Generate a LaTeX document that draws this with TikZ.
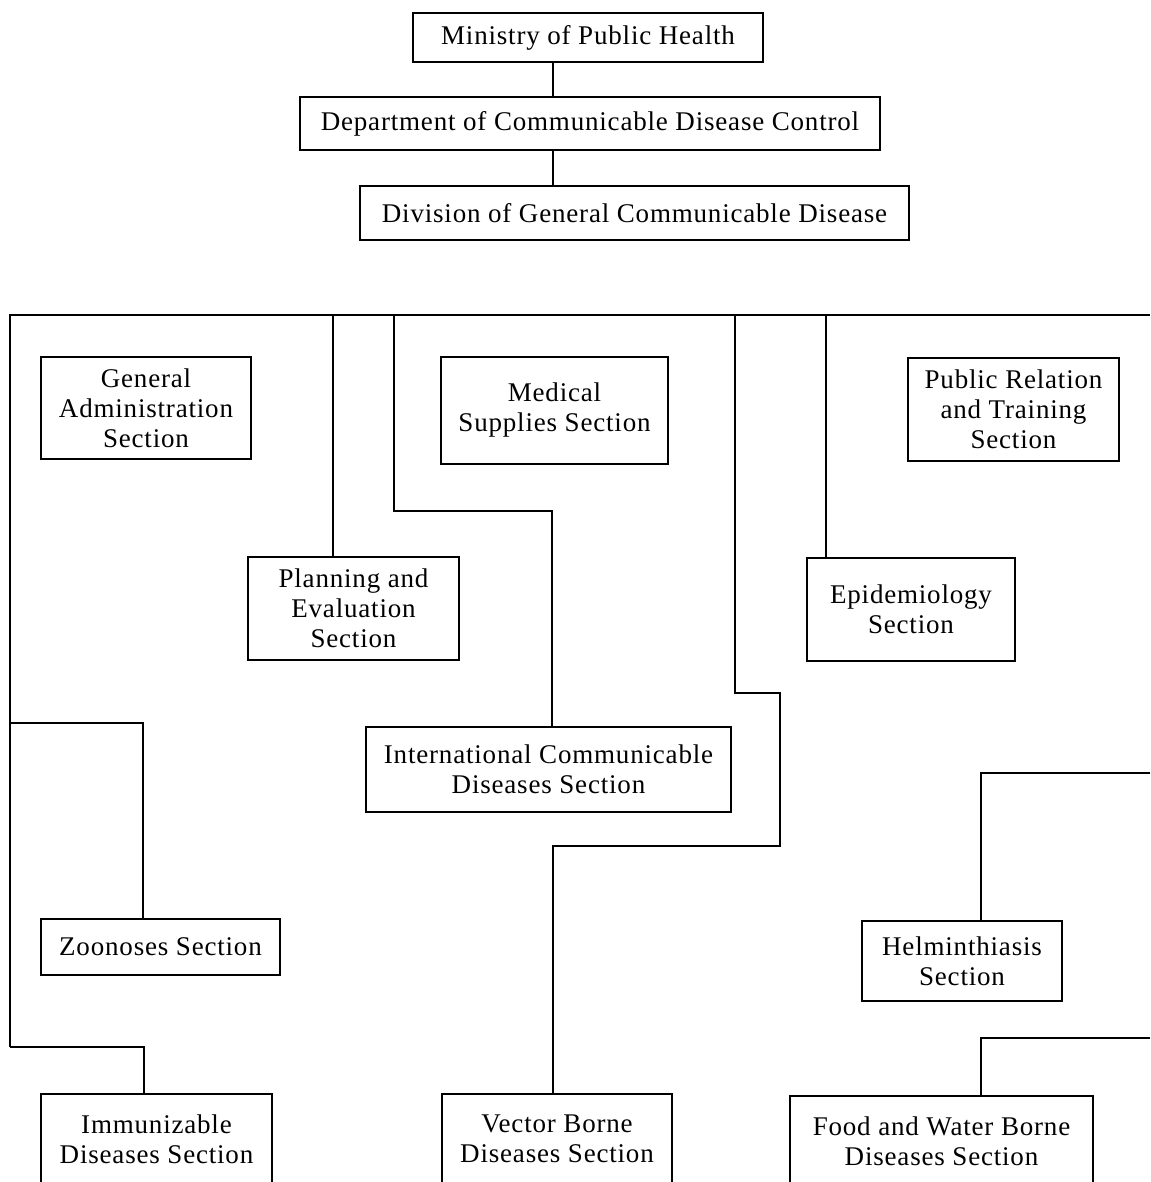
\documentclass[tikz,border=0pt]{standalone}
\usepackage{fontspec}
\setmainfont[LetterSpace=3]{Liberation Serif}
\usetikzlibrary{calc}
\begin{document}
\begin{tikzpicture}[x=1pt,y=-1pt,
  box/.style={draw, line width=1.5pt, align=center, inner sep=0pt, font=\fontsize{27}{30}\selectfont},
  conn/.style={line width=1.5pt}]
\useasboundingbox (0,0) rectangle (1150,1182);
\clip (0,0) rectangle (1150,1182);
% top chain
\node[box, minimum width=350, minimum height=49] (min) at (588,37.5) {Ministry of Public Health};
\node[box, minimum width=580, minimum height=53] (dept) at (590,123.5) {Department of Communicable Disease Control};
\node[box, minimum width=549, minimum height=54] (div) at (634.5,213) {Division of General Communicable Disease};
% sections
\node[box, minimum width=210, minimum height=102] (ga) at (146,408) {General\\Administration\\Section};
\node[box, minimum width=227, minimum height=107] (med) at (554.5,410.5) {Medical\\Supplies Section};
\node[box, minimum width=211, minimum height=103] (pr) at (1013.5,409.5) {Public Relation\\and Training\\Section};
\node[box, minimum width=211, minimum height=103] (plan) at (353.5,608.5) {Planning and\\Evaluation\\Section};
\node[box, minimum width=208, minimum height=103] (epi) at (911,609.5) {Epidemiology\\Section};
\node[box, minimum width=365, minimum height=85] (intl) at (548.5,769.5) {International Communicable\\Diseases Section};
\node[box, minimum width=239, minimum height=56] (zoo) at (160.5,947) {Zoonoses Section};
\node[box, minimum width=200, minimum height=80] (helm) at (962,961) {Helminthiasis\\Section};
\node[box, minimum width=231, minimum height=90] (imm) at (156.5,1139) {Immunizable\\Diseases Section};
\node[box, minimum width=230, minimum height=90] (vec) at (557,1139) {Vector Borne\\Diseases Section};
\node[box, minimum width=303, minimum height=90] (food) at (941.5,1141) {Food and Water Borne\\Diseases Section};
% junction coordinates
\coordinate (a) at (553,0);
\coordinate (TL) at (10,315);
\coordinate (TR) at (1150,315);
\coordinate (BL) at (10,1047);
\coordinate (p) at (333,315);
\coordinate (e) at (826,315);
\coordinate (i0) at (394,315);
\coordinate (i1) at (394,511);
\coordinate (i2) at (552,511);
\coordinate (v0) at (735,315);
\coordinate (v1) at (735,693);
\coordinate (v2) at (780,693);
\coordinate (v3) at (780,846);
\coordinate (v4) at (553,846);
\coordinate (z0) at (10,723);
\coordinate (z1) at (143,723);
\coordinate (m1) at (144,1047);
\coordinate (h0) at (1150,773);
\coordinate (h1) at (981,773);
\coordinate (f0) at (1150,1038);
\coordinate (f1) at (981,1038);
% connectors
\draw[conn] (a |- min.south) -- (a |- dept.north);
\draw[conn] (a |- dept.south) -- (a |- div.north);
\draw[conn] (TR) -- (TL) -- (BL);
\draw[conn] (p) -- (p |- plan.north);
\draw[conn] (e) -- (e |- epi.north);
\draw[conn] (i0) -- (i1) -- (i2) -- (i2 |- intl.north);
\draw[conn] (v0) -- (v1) -- (v2) -- (v3) -- (v4) -- (v4 |- vec.north);
\draw[conn] (z0) -- (z1) -- (z1 |- zoo.north);
\draw[conn] (BL) -- (m1) -- (m1 |- imm.north);
\draw[conn] (h0) -- (h1) -- (h1 |- helm.north);
\draw[conn] (f0) -- (f1) -- (f1 |- food.north);
\end{tikzpicture}
\end{document}
